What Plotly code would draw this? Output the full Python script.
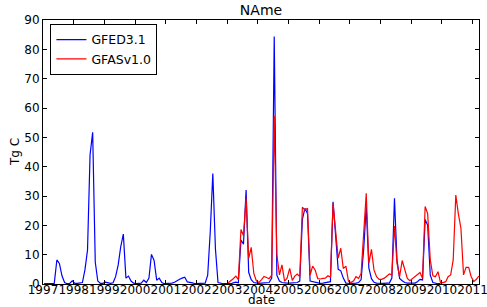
import pandas as pd
import plotly.graph_objects as go

# GFED3.1 monthly values (Tg C), Jan 1997 .. Dec 2009
gfed_start = "1997-01-15"
gfed_values = [
    0.1, 0.1, 0.1, 0.1, 0.2, 8.2, 7.0, 2.8, 0.5, 0.1, 0.2, 1.1,        # 1997
    0.2, 0.2, 0.3, 0.5, 4.8, 11.6, 44.0, 51.7, 7.5, 1.0, 0.2, 0.2,     # 1998
    0.6, 0.3, 0.2, 0.4, 2.5, 6.5, 12.7, 17.0, 2.0, 2.7, 1.0, 0.3,      # 1999
    0.1, 0.2, 0.3, 1.3, 0.5, 2.0, 10.1, 8.0, 1.3, 2.0, 0.5, 0.1,       # 2000
    0.1, 0.2, 0.3, 0.6, 1.2, 1.6, 2.0, 2.3, 0.7, 0.6, 0.4, 0.1,        # 2001
    0.1, 0.1, 0.1, 0.3, 3.0, 18.0, 37.7, 12.0, 0.5, 0.2, 0.1, 0.1,     # 2002
    0.1, 0.1, 0.4, 0.6, 0.4, 15.0, 13.6, 32.0, 4.0, 1.5, 0.5, 0.3,     # 2003
    0.2, 0.3, 0.3, 0.3, 0.5, 2.0, 84.4, 3.0, 1.0, 0.5, 0.3, 0.3,       # 2004
    0.3, 0.3, 0.4, 0.5, 1.0, 22.0, 25.8, 24.0, 1.0, 0.8, 0.4, 0.2,     # 2005
    0.2, 0.3, 0.5, 0.5, 0.8, 28.0, 16.0, 5.0, 4.5, 2.0, 0.3, 0.2,      # 2006
    0.2, 0.2, 0.3, 0.5, 1.5, 12.0, 26.4, 5.5, 1.8, 0.6, 0.3, 0.2,      # 2007
    0.2, 0.2, 0.3, 0.3, 2.0, 29.2, 8.2, 1.9, 1.1, 0.5, 0.3, 0.3,       # 2008
    0.3, 0.3, 0.8, 1.6, 1.4, 22.0, 20.0, 3.0, 0.5, 0.2, 0.1, 0.1,      # 2009
]

# GFASv1.0 monthly values (Tg C), Jan 2003 .. Mar 2011
gfas_start = "2003-01-15"
gfas_values = [
    0.4, 1.0, 1.8, 2.7, 1.5, 18.6, 16.5, 29.2, 8.7, 12.5, 3.6, 1.1,    # 2003
    0.5, 1.5, 2.6, 2.2, 1.8, 3.0, 57.3, 10.0, 3.1, 6.5, 1.0, 2.0,      # 2004
    5.3, 1.2, 2.6, 3.4, 2.5, 26.2, 25.2, 25.8, 3.0, 6.1, 4.7, 1.8,     # 2005
    1.7, 1.9, 2.0, 2.8, 2.3, 27.5, 17.0, 8.8, 12.2, 5.3, 6.1, 1.0,     # 2006
    0.5, 1.1, 2.5, 1.9, 3.6, 17.0, 30.9, 7.0, 11.8, 4.8, 2.5, 1.6,     # 2007
    1.6, 2.0, 2.7, 3.4, 3.1, 19.8, 7.0, 2.5, 8.0, 4.8, 1.9, 1.1,       # 2008
    1.9, 2.5, 3.1, 3.9, 1.9, 26.4, 24.0, 8.2, 2.8, 2.5, 4.2, 0.5,      # 2009
    0.5, 0.8, 2.5, 3.1, 8.2, 30.3, 24.0, 19.0, 3.1, 5.7, 5.7, 2.5,     # 2010
    0.8, 1.6, 2.7,                                                      # 2011
]

series_names = ["GFED3.1", "GFASv1.0"]
series_colors = ["#0000ff", "#ff0000"]

gfed_dates = pd.date_range("1997-01-01", periods=len(gfed_values), freq="MS") + pd.Timedelta(days=14)
gfas_dates = pd.date_range("2003-01-01", periods=len(gfas_values), freq="MS") + pd.Timedelta(days=14)

FONT = "DejaVu Sans"

fig = go.Figure()
fig.add_trace(go.Scatter(x=gfed_dates, y=gfed_values, mode="lines", name=series_names[0],
                         line=dict(color=series_colors[0], width=1.2)))
fig.add_trace(go.Scatter(x=gfas_dates, y=gfas_values, mode="lines", name=series_names[1],
                         line=dict(color=series_colors[1], width=1.2)))

axis_common = dict(showline=True, linecolor="black", linewidth=1, mirror="ticks",
                   ticks="inside", ticklen=4, tickcolor="black", tickwidth=1,
                   showgrid=False, zeroline=False, automargin=False,
                   ticklabeloverflow="allow",
                   tickfont=dict(family=FONT, size=12, color="black"))

fig.update_xaxes(type="date", range=["1997-01-01", "2011-03-18"], tick0="1997-01-01",
                 dtick="M12", tickformat="%Y", tickangle=0, ticklabelstandoff=-5,
                 **axis_common)
fig.update_yaxes(range=[0, 90], dtick=10, tick0=0, **axis_common)

fig.update_layout(
    width=487, height=307,
    margin=dict(l=43, r=8, t=20, b=23),
    plot_bgcolor="white", paper_bgcolor="white",
    font=dict(family=FONT, size=12, color="black"),
    title=dict(text="NAme", x=0.5, xref="paper", xanchor="center",
               y=1 - 10 / 307, yref="container", yanchor="middle", automargin=False,
               font=dict(family=FONT, size=14, color="black")),
    legend=dict(x=0.017, y=0.985, xanchor="left", yanchor="top",
                bordercolor="black", borderwidth=1, bgcolor="white",
                tracegroupgap=0,
                font=dict(family=FONT, size=12.5, color="black")),
    annotations=[
        dict(text="date", xref="paper", yref="paper", x=0.5, y=-0.062,
             xanchor="center", yanchor="middle", showarrow=False,
             font=dict(family=FONT, size=12, color="black")),
        dict(text="Tg C", xref="paper", yref="paper", x=-0.064, y=0.5,
             xanchor="center", yanchor="middle", textangle=-90, showarrow=False,
             font=dict(family=FONT, size=12, color="black")),
    ],
)

fig.write_html("out.html", config={"displayModeBar": False},
               post_script="document.body.style.margin='0';document.body.style.overflow='hidden';")
